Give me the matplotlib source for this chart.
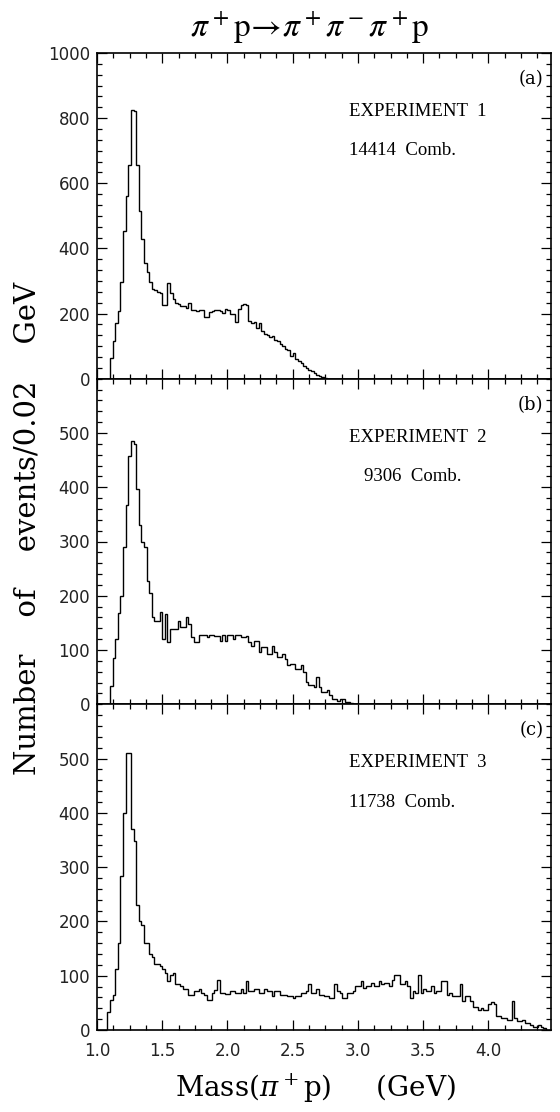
import numpy as np
import matplotlib
matplotlib.use("Agg")
import matplotlib.pyplot as plt
from matplotlib.ticker import MultipleLocator

# histogram contents, events per 0.02 GeV bin
bin_width = 0.02

mass_start_a = 1.10
counts_a = [63, 115, 170, 209, 298, 454, 560, 655, 825, 822,
            655, 515, 430, 355, 328, 298, 275, 272, 267, 262,
            226, 226, 294, 262, 245, 232, 228, 224, 224, 218,
            233, 210, 212, 208, 212, 210, 188, 190, 206, 208,
            212, 210, 208, 203, 213, 212, 198, 198, 175, 213,
            226, 228, 226, 177, 170, 175, 157, 172, 146, 136,
            133, 128, 131, 120, 115, 107, 100, 90, 87, 69,
            80, 61, 55, 48, 40, 33, 28, 23, 17, 12,
            8, 4, 2]

mass_start_b = 1.10
counts_b = [34, 86, 120, 169, 200, 290, 367, 457, 485, 480,
            397, 330, 300, 289, 228, 206, 160, 154, 154, 170,
            120, 166, 114, 139, 139, 139, 154, 142, 142, 160,
            148, 124, 114, 114, 127, 127, 127, 124, 128, 128,
            125, 125, 117, 127, 116, 127, 127, 120, 127, 127,
            124, 124, 125, 114, 108, 117, 117, 96, 105, 105,
            93, 93, 108, 96, 87, 87, 93, 84, 72, 75,
            75, 65, 65, 72, 59, 41, 35, 35, 32, 50,
            32, 23, 23, 26, 17, 10, 10, 6, 10, 10,
            4, 4, 2]

mass_start_c = 1.08
counts_c = [34, 55, 65, 112, 160, 283, 400, 510, 510, 370,
            348, 230, 200, 194, 161, 161, 140, 134, 121, 121,
            118,
            112, 105, 90, 102, 105, 84, 84, 81, 75, 75,
            65, 65, 71, 71, 75, 68, 65, 56, 56, 68,
            73, 93, 68, 68, 67, 67, 71, 71, 68, 68,
            75, 68, 90, 71, 71, 75, 75, 68, 68, 76,
            71, 71, 62, 71, 71, 65, 65, 65, 62, 62,
            59, 62, 62, 68, 68, 71, 84, 68, 68, 75,
            65, 65, 62, 62, 59, 59, 84, 71, 68, 59,
            59, 68, 68, 71, 81, 81, 90, 78, 81, 81,
            87, 81, 81, 90, 84, 87, 87, 81, 93, 102,
            102, 84, 84, 90, 81, 59, 71, 68, 102, 68,
            75, 71, 71, 81, 68, 71, 71, 90, 90, 65,
            68, 62, 62, 62, 84, 53, 62, 62, 53, 43,
            43, 37, 40, 37, 37, 47, 51, 47, 25, 25,
            22, 22, 19, 19, 53, 22, 16, 16, 19, 12,
            12, 9, 6, 6, 9, 6, 4]

panel_tags = ["(a)", "(b)", "(c)"]
experiments = ["EXPERIMENT  1", "EXPERIMENT  2", "EXPERIMENT  3"]
combos = ["14414  Comb.", "9306  Comb.", "11738  Comb."]
y_max = [1000, 600, 600]
y_major = [200, 100, 100]
y_minor = [200 / 6, 20, 20]
x_ticks = [1.0, 1.5, 2.0, 2.5, 3.0, 3.5, 4.0]

W, H = 560, 1112
fig = plt.figure(figsize=(W / 100, H / 100), dpi=100)

left = 97 / W
width = (551 - 97) / W
top_px, bottom_px = 53, 1030
ph = (bottom_px - top_px) / 3 / H

# combination count line: panel b is centred under its heading
combo_x = [0.555, 0.588, 0.555]

data = [(mass_start_a, counts_a), (mass_start_b, counts_b), (mass_start_c, counts_c)]
for i, (start, counts) in enumerate(data):
    bottom = 1 - (top_px / H) - (i + 1) * ph
    ax = fig.add_axes([left, bottom, width, ph])
    edges = start + bin_width * np.arange(len(counts) + 1)
    ax.stairs(counts, edges, color="black", lw=1.0, baseline=0)
    ax.set_xlim(1.0, 4.48)
    ax.set_ylim(0, y_max[i])
    ax.xaxis.set_major_locator(MultipleLocator(0.5))
    ax.xaxis.set_minor_locator(MultipleLocator(0.125))
    ax.yaxis.set_major_locator(MultipleLocator(y_major[i]))
    ax.yaxis.set_minor_locator(MultipleLocator(y_minor[i]))
    ax.tick_params(which="both", direction="in", top=True, right=True, width=0.9)
    ax.tick_params(which="major", length=7, labelsize=12)
    ax.tick_params(which="minor", length=3.5)
    ax.tick_params(axis="x", pad=9)
    ax.tick_params(axis="y", pad=5)
    for sp in ax.spines.values():
        sp.set_linewidth(1.2)
    if i > 0:
        ax.set_yticks(list(range(0, 600, 100)))
    for lab in ax.get_yticklabels():
        lab.set_fontfamily("DejaVu Sans")
        lab.set_color("#222222")
    if i < 2:
        ax.tick_params(labelbottom=False)
    else:
        ax.set_xticks(x_ticks)
        ax.set_xticklabels([f"{t:.1f}" for t in x_ticks], family="DejaVu Sans",
                           color="#222222")
    ax.text(0.983, 0.92, panel_tags[i], transform=ax.transAxes, ha="right",
            va="center", family="DejaVu Serif", fontsize=13)
    ax.text(0.555, 0.82, experiments[i], transform=ax.transAxes, ha="left",
            va="center", family="Liberation Serif", fontsize=13.5)
    ax.text(combo_x[i], 0.70, combos[i], transform=ax.transAxes, ha="left",
            va="center", family="Liberation Serif", fontsize=13.5)

fig.text(0.554, 0.975, r"$\pi^+\mathrm{p}\!\rightarrow\!\pi^+\pi^-\pi^+\mathrm{p}$",
         ha="center", va="center", fontsize=24, math_fontfamily="stix")
fig.text(0.564, 0.021, r"Mass($\pi^+$p)     (GeV)", ha="center", va="center",
         family="DejaVu Serif", fontsize=20, math_fontfamily="dejavuserif")
fig.text(0.05, 0.525, "Number    of    events/0.02    GeV", rotation=90,
         ha="center", va="center", family="DejaVu Serif", fontsize=21)

fig.savefig("out.png", dpi=100)
